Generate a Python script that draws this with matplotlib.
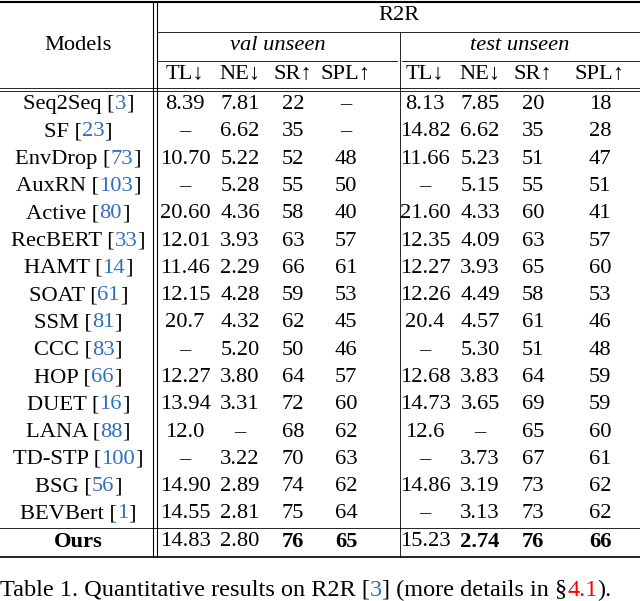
import matplotlib.pyplot as plt

models = ["Seq2Seq", "SF", "EnvDrop", "AuxRN", "Active", "RecBERT", "HAMT", "SOAT",
          "SSM", "CCC", "HOP", "DUET", "LANA", "TD-STP", "BSG", "BEVBert", "Ours"]
refs = ["3", "23", "73", "103", "80", "33", "14", "61", "81", "83", "66", "16", "88", "100", "56", "1", None]
val_unseen = [
    ["8.39", "7.81", "22", "–"], ["–", "6.62", "35", "–"], ["10.70", "5.22", "52", "48"],
    ["–", "5.28", "55", "50"], ["20.60", "4.36", "58", "40"], ["12.01", "3.93", "63", "57"],
    ["11.46", "2.29", "66", "61"], ["12.15", "4.28", "59", "53"], ["20.7", "4.32", "62", "45"],
    ["–", "5.20", "50", "46"], ["12.27", "3.80", "64", "57"], ["13.94", "3.31", "72", "60"],
    ["12.0", "–", "68", "62"], ["–", "3.22", "70", "63"], ["14.90", "2.89", "74", "62"],
    ["14.55", "2.81", "75", "64"], ["14.83", "2.80", "76", "65"]]
test_unseen = [
    ["8.13", "7.85", "20", "18"], ["14.82", "6.62", "35", "28"], ["11.66", "5.23", "51", "47"],
    ["–", "5.15", "55", "51"], ["21.60", "4.33", "60", "41"], ["12.35", "4.09", "63", "57"],
    ["12.27", "3.93", "65", "60"], ["12.26", "4.49", "58", "53"], ["20.4", "4.57", "61", "46"],
    ["–", "5.30", "51", "48"], ["12.68", "3.83", "64", "59"], ["14.73", "3.65", "69", "59"],
    ["12.6", "–", "65", "60"], ["–", "3.73", "67", "61"], ["14.86", "3.19", "73", "62"],
    ["–", "3.13", "73", "62"], ["15.23", "2.74", "76", "66"]]
metrics = ["TL↓", "NE↓", "SR↑", "SPL↑"]
bold_val = [False, False, True, True]
bold_test = [False, True, True, True]

plt.rcParams['font.family'] = ['Liberation Serif', 'DejaVu Serif']
fig = plt.figure(figsize=(6.4, 6.01), dpi=100)
ax = fig.add_axes([0, 0, 1, 1])
ax.set_xlim(0, 640)
ax.set_ylim(601, 0)
ax.axis('off')

fs = 16.2
col_x = [185, 240, 293, 346, 425, 480, 533, 600]
lc = 'black'
blue = '#2f6fbf'

def right_edge(t):
    fig.canvas.draw()
    return t.get_window_extent().transformed(ax.transData.inverted())

# header
ax.text(78, 45, "Models", ha='center', va='center', fontsize=fs)
ax.text(399, 16, "R2R", ha='center', va='center', fontsize=fs)
ax.text(278, 46, "val unseen", ha='center', va='center', fontsize=fs, style='italic')
ax.text(520, 46, "test unseen", ha='center', va='center', fontsize=fs, style='italic')
for x, m in zip(col_x, metrics * 2):
    ax.text(x, 74, m, ha='center', va='center', fontsize=fs)

# rules
ax.plot([0, 640], [2, 2], color=lc, lw=1.5)
ax.plot([158, 640], [32, 32], color=lc, lw=0.6)
ax.plot([158, 397], [61, 61], color=lc, lw=0.6)
ax.plot([402, 640], [61, 61], color=lc, lw=0.6)
ax.plot([0, 640], [88, 88], color=lc, lw=0.6)
ax.plot([0, 640], [91, 91], color=lc, lw=0.6)
ax.plot([0, 640], [528, 528], color=lc, lw=0.6)
ax.plot([0, 640], [557, 557], color=lc, lw=1.2)
ax.plot([153, 153], [2, 557], color=lc, lw=0.8)
ax.plot([157, 157], [2, 557], color=lc, lw=0.8)
ax.plot([399.5, 399.5], [32, 557], color=lc, lw=0.6)

y0, dy = 104.5, 27.3
for i, name in enumerate(models):
    y = y0 + i * dy if i < 16 else 542
    if refs[i] is None:
        ax.text(78, y, name, ha='center', va='center', fontsize=fs, weight='bold')
    else:
        # measure full label, then draw it in pieces so the citation is blue
        t = ax.text(78, y, f"{name} [{refs[i]}]", ha='center', va='center', fontsize=fs)
        left = right_edge(t).x0
        t.remove()
        t1 = ax.text(left, y, f"{name} [", ha='left', va='center', fontsize=fs)
        t2 = ax.text(right_edge(t1).x1, y, refs[i], ha='left', va='center', fontsize=fs, color=blue)
        ax.text(right_edge(t2).x1, y, "]", ha='left', va='center', fontsize=fs)
    vals = val_unseen[i] + test_unseen[i]
    bolds = (bold_val + bold_test) if name == "Ours" else [False] * 8
    for x, v, b in zip(col_x, vals, bolds):
        ax.text(x, y, v, ha='center', va='center', fontsize=fs, weight='bold' if b else 'normal')

# caption
cap_y = 590
cfs = 17.5
x = 0
for s, col in [("Table 1. Quantitative results on R2R [", 'black'), ("3", blue),
               ("] (more details in §", 'black'), ("4.1", 'red'), (").", 'black')]:
    t = ax.text(x, cap_y, s, ha='left', va='center', fontsize=cfs, color=col)
    x = right_edge(t).x1

fig.savefig("out.png", dpi=100)
